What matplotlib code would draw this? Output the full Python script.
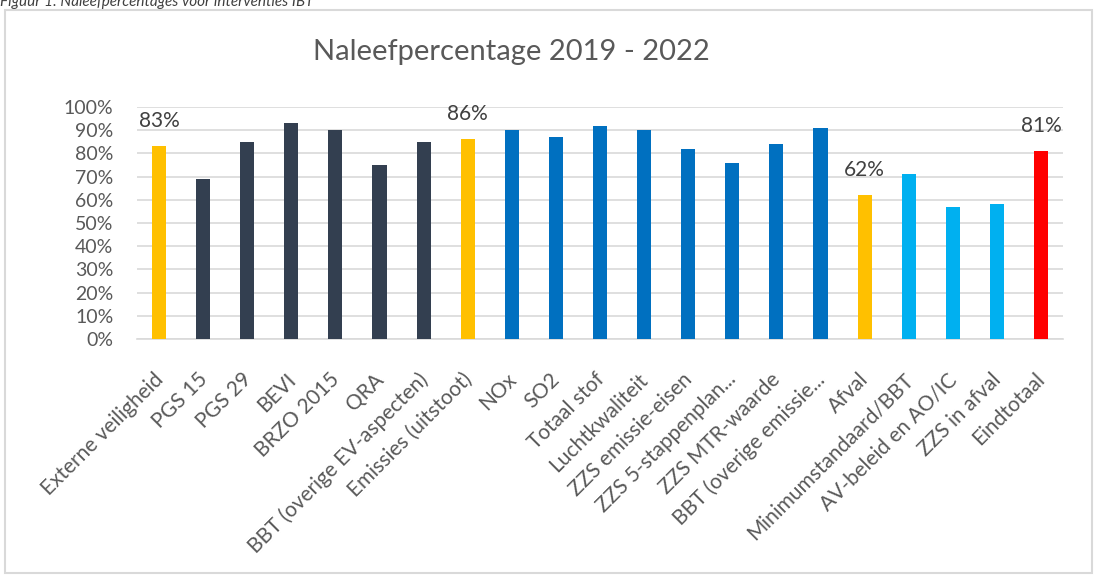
import matplotlib
matplotlib.use("Agg")
import matplotlib.pyplot as plt
import matplotlib.transforms as mtransforms
from matplotlib.patches import Rectangle
from matplotlib.ticker import PercentFormatter

# Gegevens
categorieen = ["Externe veiligheid", "PGS 15", "PGS 29", "BEVI", "BRZO 2015", "QRA",
               "BBT (overige EV-aspecten)", "Emissies (uitstoot)", "NOx", "SO2",
               "Totaal stof", "Luchtkwaliteit", "ZZS emissie-eisen", "ZZS 5-stappenplan...",
               "ZZS MTR-waarde", "BBT (overige emissie...", "Afval", "Minimumstandaard/BBT",
               "AV-beleid en AO/IC", "ZZS in afval", "Eindtotaal"]
percentages = [83, 69, 85, 93, 90, 75, 85, 86, 90, 87, 92, 90, 82, 76, 84, 91, 62, 71, 57, 58, 81]
groepen = ["totaal", "ev", "ev", "ev", "ev", "ev", "ev", "totaal", "em", "em", "em", "em",
           "em", "em", "em", "em", "totaal", "afv", "afv", "afv", "eind"]
kleuren = {"totaal": "#FFC000", "ev": "#333F50", "em": "#0070C0", "afv": "#00B0F0", "eind": "#FF0000"}

plt.rcParams["font.family"] = ["Lato", "DejaVu Sans"]

fig = plt.figure(figsize=(10.99, 5.75), dpi=100)
W, H = 1099, 575
ax = fig.add_axes([137 / W, 1 - 339 / H, (1063 - 137) / W, (339 - 107) / H])

x = list(range(len(categorieen)))
ax.bar(x, [p / 100 for p in percentages], width=0.32,
       color=[kleuren[g] for g in groepen], zorder=3)

# labels alleen op de (sub)totalen
for i, (p, g) in enumerate(zip(percentages, groepen)):
    if g in ("totaal", "eind"):
        ax.annotate(f"{p}%", (i, p / 100), xytext=(0, 18), textcoords="offset points",
                    ha="center", va="center", fontsize=15, color="#404040")

ax.set_xlim(-0.5, len(categorieen) - 0.5)
ax.set_ylim(0, 1)
ax.set_yticks([i / 10 for i in range(11)])
ax.yaxis.set_major_formatter(PercentFormatter(1.0, decimals=0))
ax.grid(axis="y", color="#D9D9D9", linewidth=1.2, zorder=0)
for s in ["top", "right", "left"]:
    ax.spines[s].set_visible(False)
ax.spines["bottom"].set_color("#D9D9D9")
ax.spines["bottom"].set_linewidth(1.2)
ax.tick_params(axis="y", length=0, labelsize=14, labelcolor="#595959", pad=17)
ax.set_xticks(x)
ax.set_xticklabels(categorieen, rotation=45, ha="right", va="top", rotation_mode="anchor")
ax.tick_params(axis="x", length=0, labelsize=15, labelcolor="#595959", pad=19)
# labels iets naar links/onder schuiven
verschuiving = mtransforms.ScaledTranslation(-6 / 100, -4 / 100, fig.dpi_scale_trans)
for lbl in ax.get_xticklabels():
    lbl.set_transform(lbl.get_transform() + verschuiving)

fig.text(511 / W, 1 - 52 / H, "Naleefpercentage 2019 - 2022", ha="center", va="center",
         fontsize=21, color="#595959")

# kader rond de grafiek
fig.patches.append(Rectangle((5 / W, 1 - 573 / H), (1092 - 5) / W, (573 - 10) / H,
                             transform=fig.transFigure, fill=False,
                             edgecolor="#D9D9D9", linewidth=1.5))
# afgesneden bijschrift bovenaan
fig.text(0 / W, 1 - 6 / H, "Figuur 1: Naleefpercentages voor interventies IBT",
         ha="left", va="baseline", fontsize=11, style="italic", color="#404040")

fig.savefig("out.png", dpi=100)
